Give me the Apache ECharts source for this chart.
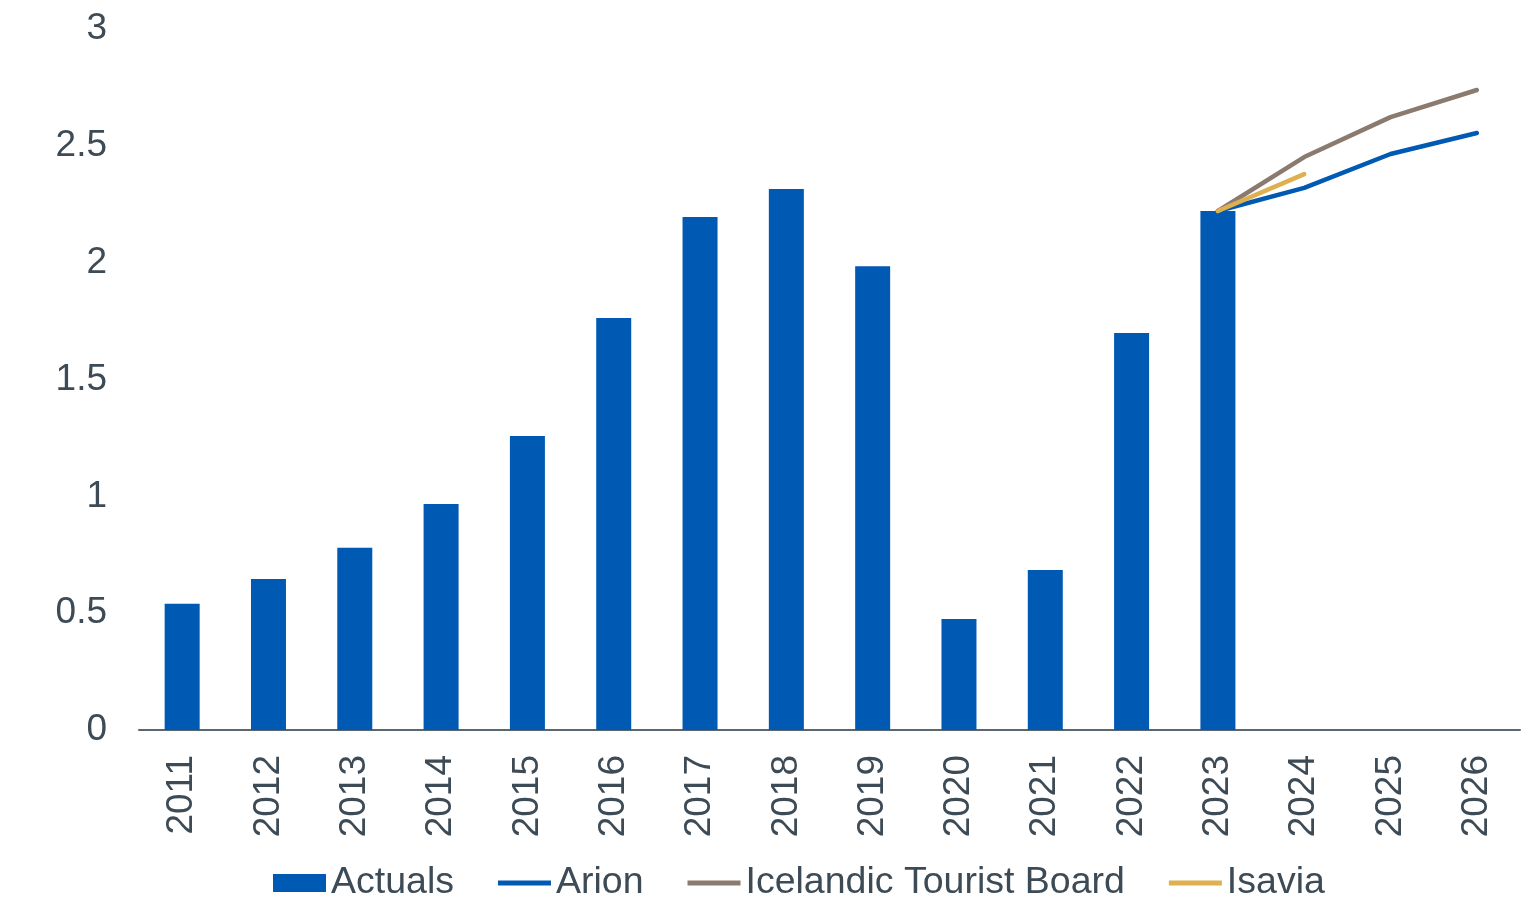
<!DOCTYPE html>
<html>
<head>
<meta charset="utf-8">
<script src="https://cdn.jsdelivr.net/npm/echarts@6/dist/echarts.min.js"></script>
<style>
  html, body { margin: 0; padding: 0; background: #fff; }
  #chart { width: 1533px; height: 899px; }
</style>
</head>
<body>
<div id="chart"></div>
<script>
// passenger numbers (millions): actuals + forecasts
var years = ['2011', '2012', '2013', '2014', '2015', '2016', '2017', '2018',
             '2019', '2020', '2021', '2022', '2023', '2024', '2025', '2026'];
var actuals = [0.54, 0.646, 0.78, 0.967, 1.258, 1.763, 2.195, 2.315,
               1.985, 0.475, 0.685, 1.699, 2.221, null, null, null];
var arion = [null, null, null, null, null, null, null, null,
             null, null, null, null, 2.221, 2.32, 2.465, 2.555];
var touristBoard = [null, null, null, null, null, null, null, null,
                    null, null, null, null, 2.221, 2.452, 2.623, 2.739];
var isavia = [null, null, null, null, null, null, null, null,
              null, null, null, null, 2.221, 2.379, null, null];

var textColor = '#3d4b56';
var fontFamily = '"Liberation Sans", Arial, sans-serif';
// thin line icon for the legend (bbox kept 54x18 by the dummy points)
var lineIcon = 'path://M0,0L0.001,0L0.001,0.001Z M0,6.5L54,6.5L54,11.5L0,11.5Z M0,18L0.001,18L0.001,17.999Z';

var chart = echarts.init(document.getElementById('chart'));

var option = {
    animation: false,
    grid: {
        left: 139,
        right: 13,
        top: 29,
        bottom: 169
    },
    legend: {
        left: 273,
        top: 864,
        padding: 0,
        itemWidth: 53,
        itemHeight: 18,
        itemGap: 44,
        textStyle: {
            color: textColor,
            fontSize: 37.5,
            fontFamily: fontFamily
        },
        data: [
            { name: 'Actuals', icon: 'rect' },
            { name: 'Arion', icon: lineIcon },
            { name: 'Icelandic Tourist Board', icon: lineIcon },
            { name: 'Isavia', icon: lineIcon }
        ]
    },
    xAxis: {
        type: 'category',
        data: years,
        axisLine: { lineStyle: { color: '#5b6770', width: 2 } },
        axisTick: { show: false },
        axisLabel: {
            rotate: 90,
            margin: 25,
            color: textColor,
            fontSize: 37,
            fontFamily: fontFamily
        }
    },
    yAxis: {
        type: 'value',
        min: 0,
        max: 3,
        interval: 0.5,
        axisLine: { show: false },
        axisTick: { show: false },
        splitLine: { show: false },
        axisLabel: {
            margin: 32,
            color: textColor,
            fontSize: 37,
            fontFamily: fontFamily
        }
    },
    series: [
        {
            name: 'Actuals',
            type: 'bar',
            data: actuals,
            barWidth: 35,
            itemStyle: { color: '#0059b3' }
        },
        {
            name: 'Arion',
            type: 'line',
            data: arion,
            symbol: 'none',
            itemStyle: { color: '#0059b3' },
            lineStyle: { color: '#0059b3', width: 4.5, cap: 'round', join: 'round' }
        },
        {
            name: 'Icelandic Tourist Board',
            type: 'line',
            data: touristBoard,
            symbol: 'none',
            itemStyle: { color: '#8b7a6e' },
            lineStyle: { color: '#8b7a6e', width: 4.5, cap: 'round', join: 'round' }
        },
        {
            name: 'Isavia',
            type: 'line',
            data: isavia,
            symbol: 'none',
            itemStyle: { color: '#deb050' },
            lineStyle: { color: '#deb050', width: 4.5, cap: 'round', join: 'round' }
        }
    ]
};

chart.setOption(option);
</script>
</body>
</html>
